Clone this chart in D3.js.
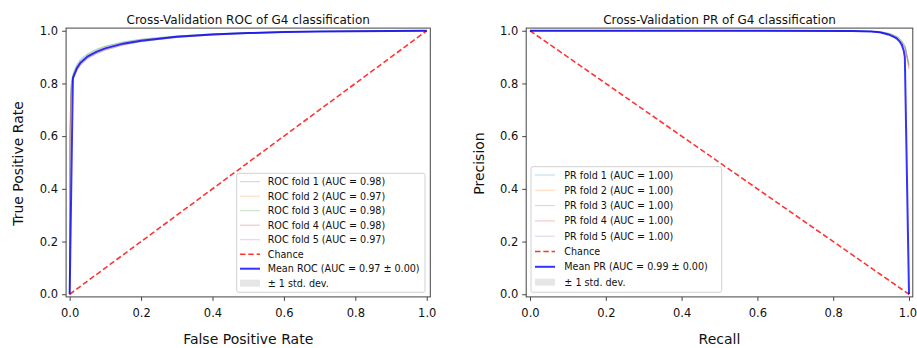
<!DOCTYPE html>
<html><head><meta charset="utf-8">
<script src="https://cdn.jsdelivr.net/npm/d3@7"></script>
<style>body{margin:0;background:#fff}svg{display:block}text{font-family:"DejaVu Sans",sans-serif;fill:#111}</style>
</head><body><svg id="c" width="917" height="348"></svg>
<script>
// ---------- ROC data ----------
const rocFoldFpr = [0, 0.001, 0.004, 0.01, 0.02, 0.03, 0.05, 0.075, 0.1, 0.15, 0.2, 0.3, 0.4, 0.5, 0.6, 0.7, 0.8, 0.9, 1.0];
const rocFold1 = [0, 0.62, 0.79, 0.835, 0.868, 0.888, 0.91, 0.927, 0.94, 0.956, 0.967, 0.98, 0.988, 0.993, 0.996, 0.998, 0.999, 1.0, 1.0];
const rocFold2 = [0, 0.58, 0.77, 0.818, 0.85, 0.87, 0.895, 0.913, 0.927, 0.946, 0.959, 0.975, 0.984, 0.99, 0.994, 0.997, 0.998, 0.999, 1.0];
const rocFold3 = [0, 0.63, 0.80, 0.84, 0.872, 0.892, 0.913, 0.93, 0.942, 0.958, 0.968, 0.98, 0.988, 0.993, 0.996, 0.998, 0.999, 1.0, 1.0];
const rocFold4 = [0, 0.60, 0.78, 0.83, 0.862, 0.882, 0.905, 0.922, 0.935, 0.952, 0.964, 0.978, 0.987, 0.992, 0.995, 0.997, 0.999, 1.0, 1.0];
const rocFold5 = [0, 0.57, 0.76, 0.815, 0.848, 0.868, 0.893, 0.912, 0.926, 0.945, 0.958, 0.974, 0.984, 0.99, 0.994, 0.997, 0.998, 0.999, 1.0];
const rocMeanFpr = [0, 0.009, 0.02, 0.03, 0.05, 0.075, 0.1, 0.15, 0.2, 0.3, 0.4, 0.5, 0.6, 0.7, 0.8, 0.9, 1.0];
const rocMeanTpr = [0, 0.82, 0.857, 0.878, 0.902, 0.92, 0.933, 0.951, 0.962, 0.977, 0.986, 0.991, 0.995, 0.997, 0.998, 0.999, 1.0];
const rocMeanStd = [0, 0.01, 0.009, 0.009, 0.008, 0.007, 0.007, 0.005, 0.004, 0.003, 0.002, 0.002, 0.001, 0.001, 0.001, 0.0005, 0];
const rocFoldAuc = ["0.98", "0.97", "0.98", "0.98", "0.97"];
const rocMeanLabel = "Mean ROC (AUC = 0.97 ± 0.00)";

// ---------- PR data ----------
const prFoldRecall = [0, 0.5, 0.85, 0.9, 0.93, 0.95, 0.97, 0.98, 0.99, 1.0];
const prFold1 = [1, 1, 0.999, 0.998, 0.995, 0.989, 0.976, 0.962, 0.94, 0.87];
const prFold2 = [1, 1, 0.999, 0.997, 0.993, 0.986, 0.972, 0.957, 0.932, 0.86];
const prFold3 = [1, 1, 0.999, 0.998, 0.995, 0.989, 0.977, 0.963, 0.941, 0.872];
const prFold4 = [1, 1, 0.999, 0.997, 0.992, 0.985, 0.97, 0.955, 0.93, 0.855];
const prFold5 = [1, 1, 0.999, 0.997, 0.993, 0.987, 0.973, 0.958, 0.934, 0.865];
const prMeanRecall = [0, 0.5, 0.85, 0.9, 0.923, 0.945, 0.96, 0.967, 0.975, 0.981, 0.986, 0.989, 1.0];
const prMeanPrecision = [1, 1, 0.999, 0.997, 0.994, 0.986, 0.977, 0.971, 0.96, 0.946, 0.925, 0.9, 0];
const prMeanStd = [0, 0, 0.0005, 0.001, 0.001, 0.002, 0.002, 0.003, 0.003, 0.004, 0.004, 0.004, 0];
const prFoldAuc = ["1.00", "1.00", "1.00", "1.00", "1.00"];
const prMeanLabel = "Mean PR (AUC = 0.99 ± 0.00)";

const tickValues = [0, 0.2, 0.4, 0.6, 0.8, 1.0];
const foldColors = ["#1f77b4", "#ff7f0e", "#2ca02c", "#d62728", "#9467bd"];

const svg = d3.select("#c");

function panel(o) {
  const x = d3.scaleLinear().domain([-0.01, 1.01]).range(o.xr);
  const y = d3.scaleLinear().domain([-0.01, 1.01]).range([296.9, 28.1]);
  const g = svg.append("g");
  const line = d3.line().x(d => x(d[0])).y(d => y(d[1]));

  o.folds.forEach((f, i) => {
    g.append("path").datum(o.foldX.map((v, k) => [v, f[k]]))
      .attr("d", line).attr("fill", "none").attr("stroke", foldColors[i])
      .attr("stroke-opacity", 0.3).attr("stroke-width", 1);
  });
  g.append("path").datum(o.chance).attr("d", line).attr("fill", "none")
    .attr("stroke", "#ff0000").attr("stroke-opacity", 0.8).attr("stroke-width", 1.6)
    .attr("stroke-dasharray", "5.5,2.8");
  const area = d3.area().x(d => x(d[0])).y0(d => y(Math.max(d[1] - d[2], 0))).y1(d => y(Math.min(d[1] + d[2], 1)));
  g.append("path").datum(o.meanX.map((v, k) => [v, o.meanY[k], o.std[k]]))
    .attr("d", area).attr("fill", "grey").attr("fill-opacity", 0.2);
  g.append("path").datum(o.meanX.map((v, k) => [v, o.meanY[k]]))
    .attr("d", line).attr("fill", "none").attr("stroke", "#0000ff").attr("stroke-opacity", 0.8)
    .attr("stroke-width", 2);

  g.append("rect").attr("x", o.xr[0]).attr("y", 28.1).attr("width", o.xr[1] - o.xr[0]).attr("height", 296.9 - 28.1)
    .attr("fill", "none").attr("stroke", "#444").attr("stroke-width", 1);

  const xa = g.append("g").attr("transform", "translate(0,296.9)")
    .call(d3.axisBottom(x).tickValues(tickValues).tickFormat(d3.format(".1f")).tickSize(4).tickPadding(7.5));
  const ya = g.append("g").attr("transform", `translate(${o.xr[0]},0)`)
    .call(d3.axisLeft(y).tickValues(tickValues).tickFormat(d3.format(".1f")).tickSize(4).tickPadding(4));
  [xa, ya].forEach(a => {
    a.select(".domain").remove();
    a.selectAll("line").attr("stroke", "#444");
    a.selectAll("text").attr("font-size", 11.5).attr("fill", "#111").style("font-family", "DejaVu Sans");
  });
  if (o.nudgeLast) xa.selectAll("text").filter(d => d === 1).attr("dx", o.nudgeLast);

  const cx = (o.xr[0] + o.xr[1]) / 2;
  g.append("text").attr("x", cx).attr("y", 23.5).attr("text-anchor", "middle").attr("font-size", 12).text(o.title);
  g.append("text").attr("x", cx).attr("y", 344).attr("text-anchor", "middle").attr("font-size", 14).text(o.xlabel);
  g.append("text").attr("transform", `translate(${o.ylx},163.5) rotate(-90)`).attr("text-anchor", "middle")
    .attr("dominant-baseline", "central").attr("font-size", 14).text(o.ylabel);

  const L = o.legend;
  g.append("rect").attr("x", L.x).attr("y", L.y).attr("width", L.w).attr("height", L.h).attr("rx", 2)
    .attr("fill", "#fff").attr("fill-opacity", 0.8).attr("stroke", "#d0d0d0").attr("stroke-width", 1);
  const items = o.foldLabels.map((t, i) => ({t, type: "fold", c: foldColors[i]}))
    .concat([{t: "Chance", type: "chance"}, {t: o.meanLabel, type: "mean"}, {t: "± 1 std. dev.", type: "std"}]);
  items.forEach((it, i) => {
    const yy = L.y0 + i * L.dy;
    if (it.type === "fold") g.append("line").attr("x1", L.hx).attr("x2", L.hx + 20).attr("y1", yy).attr("y2", yy)
      .attr("stroke", it.c).attr("stroke-opacity", 0.3).attr("stroke-width", 1);
    if (it.type === "chance") g.append("line").attr("x1", L.hx).attr("x2", L.hx + 20).attr("y1", yy).attr("y2", yy)
      .attr("stroke", "#ff0000").attr("stroke-opacity", 0.8).attr("stroke-width", 1.6).attr("stroke-dasharray", "5.5,2.8");
    if (it.type === "mean") g.append("line").attr("x1", L.hx).attr("x2", L.hx + 20).attr("y1", yy).attr("y2", yy)
      .attr("stroke", "#0000ff").attr("stroke-opacity", 0.8).attr("stroke-width", 2);
    if (it.type === "std") g.append("rect").attr("x", L.hx).attr("y", yy - 3.5).attr("width", 20).attr("height", 7)
      .attr("fill", "grey").attr("fill-opacity", 0.2);
    g.append("text").attr("x", L.tx).attr("y", yy).attr("dominant-baseline", "central")
      .attr("font-size", 9.6).text(it.t);
  });
}

panel({
  xr: [66.1, 430.3], title: "Cross-Validation ROC of G4 classification",
  xlabel: "False Positive Rate", ylabel: "True Positive Rate", ylx: 18,
  folds: [rocFold1, rocFold2, rocFold3, rocFold4, rocFold5], foldX: rocFoldFpr,
  chance: [[0, 0], [1, 1]], meanX: rocMeanFpr, meanY: rocMeanTpr, std: rocMeanStd,
  foldLabels: rocFoldAuc.map((a, i) => `ROC fold ${i + 1} (AUC = ${a})`), meanLabel: rocMeanLabel,
  legend: {x: 236.7, y: 173.3, w: 188.3, h: 119, y0: 181.7, dy: 14.5, hx: 240, tx: 267.7}
});
panel({
  xr: [526.2, 912.8], title: "Cross-Validation PR of G4 classification",
  xlabel: "Recall", ylabel: "Precision", ylx: 479, nudgeLast: -1.5,
  folds: [prFold1, prFold2, prFold3, prFold4, prFold5], foldX: prFoldRecall,
  chance: [[0, 1], [1, 0]], meanX: prMeanRecall, meanY: prMeanPrecision, std: prMeanStd,
  foldLabels: prFoldAuc.map((a, i) => `PR fold ${i + 1} (AUC = ${a})`), meanLabel: prMeanLabel,
  legend: {x: 531, y: 166.7, w: 190.7, h: 125.6, y0: 175, dy: 15.3, hx: 535, tx: 564.3}
});
</script></body></html>
